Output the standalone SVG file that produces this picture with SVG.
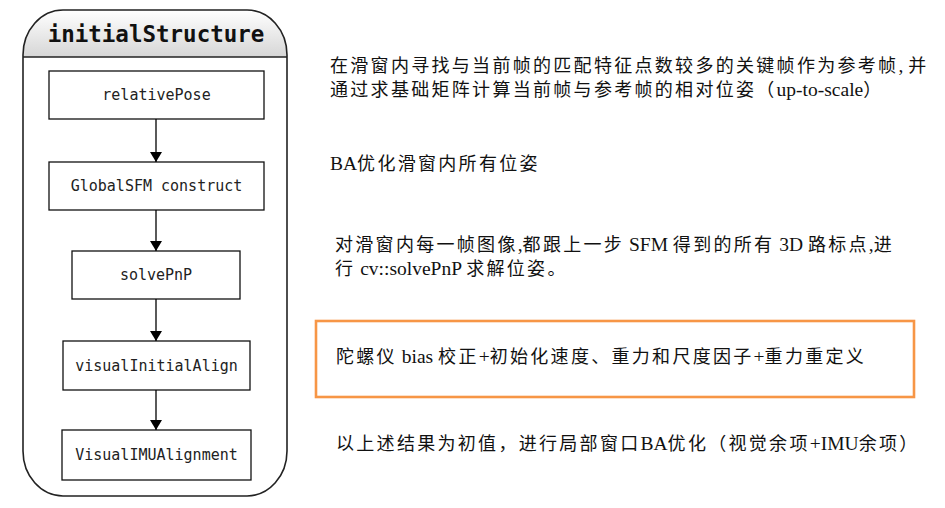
<svg xmlns="http://www.w3.org/2000/svg" width="945" height="508" viewBox="0 0 945 508">
<defs>
<linearGradient id="hdr" x1="0" y1="0" x2="0" y2="1">
<stop offset="0" stop-color="#ffffff"/>
<stop offset="1" stop-color="#d6d6d6"/>
</linearGradient>
<marker id="arr" viewBox="0 0 10 12" refX="10" refY="6" markerWidth="10" markerHeight="12" markerUnits="userSpaceOnUse" orient="auto">
<path d="M0,0 L10,6 L0,12 Z" fill="#000"/>
</marker>
<style>
.box{fill:#fff;stroke:#111;stroke-width:1.3}
.lbl{font-family:"DejaVu Sans Mono","Liberation Mono",monospace;font-size:15px;fill:#222;text-anchor:middle}
.ttl{font-family:"DejaVu Sans Mono","Liberation Mono",monospace;font-size:22.5px;font-weight:bold;fill:#111;text-anchor:middle}
.con{stroke:#000;stroke-width:1.3;fill:none;marker-end:url(#arr)}
.note{font-family:"Liberation Serif","Noto Sans CJK SC",serif;font-size:19.5px;fill:#111}
.cjk{font-family:"Noto Sans CJK SC",sans-serif;font-size:18px;letter-spacing:2.3px}
</style>
</defs>
<rect width="945" height="508" fill="#fff"/>

<g id="initialStructure">
<path d="M23,57 L23,55 A40,45 0 0 1 63,10 L247,10 A40,45 0 0 1 287,55 L287,57 Z" fill="url(#hdr)"/>
<path d="M63,10 L247,10 A40,45 0 0 1 287,55 L287,451 A40,45 0 0 1 247,496 L63,496 A40,45 0 0 1 23,451 L23,55 A40,45 0 0 1 63,10 Z" fill="none" stroke="#222" stroke-width="1.6"/>
<line x1="23" y1="57" x2="287" y2="57" stroke="#222" stroke-width="1.6"/>
<text class="ttl" x="156" y="41.5">initialStructure</text>
</g>

<g id="relativePose">
<rect class="box" x="49" y="71" width="215" height="48"/>
<text class="lbl" x="156.5" y="100">relativePose</text>
</g>
<g id="globalSFM">
<rect class="box" x="49" y="162" width="215" height="48"/>
<text class="lbl" x="156.5" y="191">GlobalSFM construct</text>
</g>
<g id="solvePnP">
<rect class="box" x="72" y="251" width="168" height="48"/>
<text class="lbl" x="156" y="280">solvePnP</text>
</g>
<g id="visualInitialAlign">
<rect class="box" x="63" y="341" width="187" height="49"/>
<text class="lbl" x="156.5" y="370.5">visualInitialAlign</text>
</g>
<g id="visualIMUAlignment">
<rect class="box" x="62" y="430" width="189" height="50"/>
<text class="lbl" x="156.5" y="460">VisualIMUAlignment</text>
</g>

<g id="connectors">
<line class="con" x1="156" y1="119" x2="156" y2="162"/>
<line class="con" x1="156" y1="210" x2="156" y2="251"/>
<line class="con" x1="156" y1="299" x2="156" y2="341"/>
<line class="con" x1="156" y1="390" x2="156" y2="430"/>
</g>

<g id="notes">
<text class="note"><tspan x="330" y="72"><tspan class="cjk">在滑窗内寻找与当前帧的匹配特征点数较多的关键帧作为参考帧</tspan>, <tspan class="cjk">并</tspan></tspan><tspan x="330" y="96"><tspan class="cjk">通过求基础矩阵计算当前帧与参考帧的相对位姿（</tspan>up-to-scale<tspan class="cjk">）</tspan></tspan></text>
<text class="note" x="330" y="170">BA<tspan class="cjk">优化滑窗内所有位姿</tspan></text>
<text class="note"><tspan x="335" y="251"><tspan class="cjk">对滑窗内每一帧图像</tspan>,<tspan class="cjk">都跟上一步</tspan> SFM <tspan class="cjk">得到的所有</tspan> 3D <tspan class="cjk">路标点</tspan>,<tspan class="cjk">进</tspan></tspan><tspan x="335" y="275"><tspan class="cjk">行</tspan> cv::solvePnP <tspan class="cjk">求解位姿。</tspan></tspan></text>
<rect x="316" y="321" width="598" height="76" fill="none" stroke="#F79646" stroke-width="2.6"/>
<text class="note" x="336" y="363"><tspan class="cjk">陀螺仪</tspan> bias <tspan class="cjk">校正</tspan>+<tspan class="cjk">初始化速度、重力和尺度因子</tspan>+<tspan class="cjk">重力重定义</tspan></text>
<text class="note" x="336" y="450"><tspan class="cjk">以上述结果为初值，进行局部窗口</tspan>BA<tspan class="cjk">优化（视觉余项</tspan>+IMU<tspan class="cjk">余项）</tspan></text>
</g>
</svg>
